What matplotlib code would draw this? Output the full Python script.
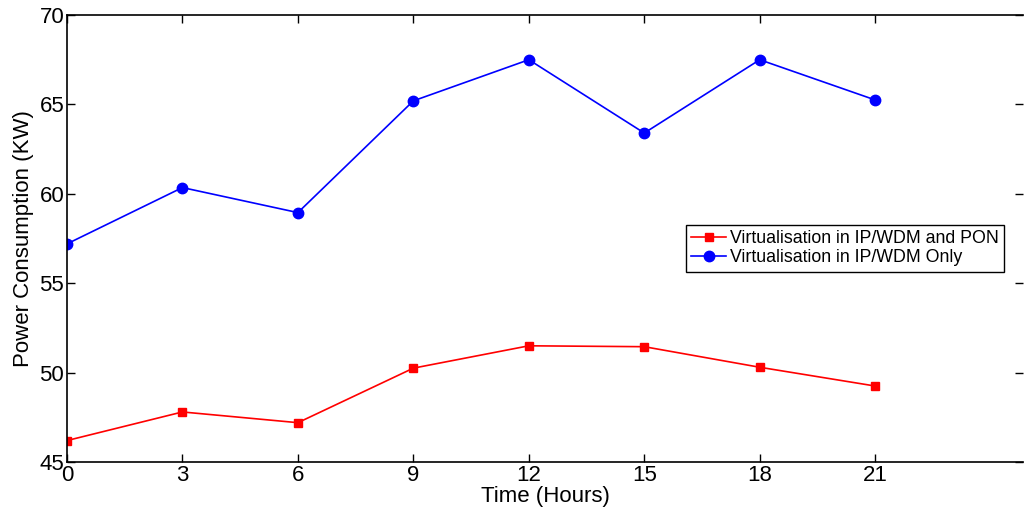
import matplotlib
matplotlib.use("Agg")
import matplotlib.pyplot as plt

# data
hours = [0, 3, 6, 9, 12, 15, 18, 21]
pon_virt = [46.2, 47.8, 47.2, 50.25, 51.5, 51.45, 50.3, 49.25]
ipwdm_only = [57.2, 60.35, 58.95, 65.2, 67.5, 63.4, 67.5, 65.25]
x_ticks = [0, 3, 6, 9, 12, 15, 18, 21]
y_ticks = [45, 50, 55, 60, 65, 70]

plt.rcParams['font.family'] = ['Liberation Sans', 'DejaVu Sans']

fig = plt.figure(figsize=(10.24, 5.2), dpi=100)
ax = fig.add_axes([0.0654, 0.1115, 0.934, 0.8596])

# Data Plotting
ax.plot(hours, pon_virt, color='#ff0000', marker='s', markersize=6, linewidth=1.2,
        label='Virtualisation in IP/WDM and PON')
ax.plot(hours, ipwdm_only, color='#0000ff', marker='o', markersize=7.5, linewidth=1.2,
        label='Virtualisation in IP/WDM Only')

# Plot Setup
ax.set_xlim(0, 24.85)
ax.set_ylim(45, 70)
ax.set_xticks(x_ticks)
ax.set_yticks(y_ticks)
ax.tick_params(direction='in', length=6, width=1, labelsize=16, top=True, right=True, pad=2)
for s in ax.spines.values():
    s.set_linewidth(1.2)
ax.spines['right'].set_visible(False)  # cut off at the image edge in the original
ax.set_xlabel("Time (Hours)", fontsize=16, labelpad=0)
ax.set_ylabel("Power Consumption (KW)", fontsize=16, labelpad=4)

leg = ax.legend(loc='upper right', bbox_to_anchor=(0.98, 0.53), fontsize=12.8,
                fancybox=False, edgecolor='black', framealpha=1,
                borderpad=0.3, labelspacing=0.1, handlelength=2.0, handletextpad=0.2,
                borderaxespad=0)
leg.get_frame().set_linewidth(1.0)

plt.savefig("out.png", dpi=100)
plt.close()
